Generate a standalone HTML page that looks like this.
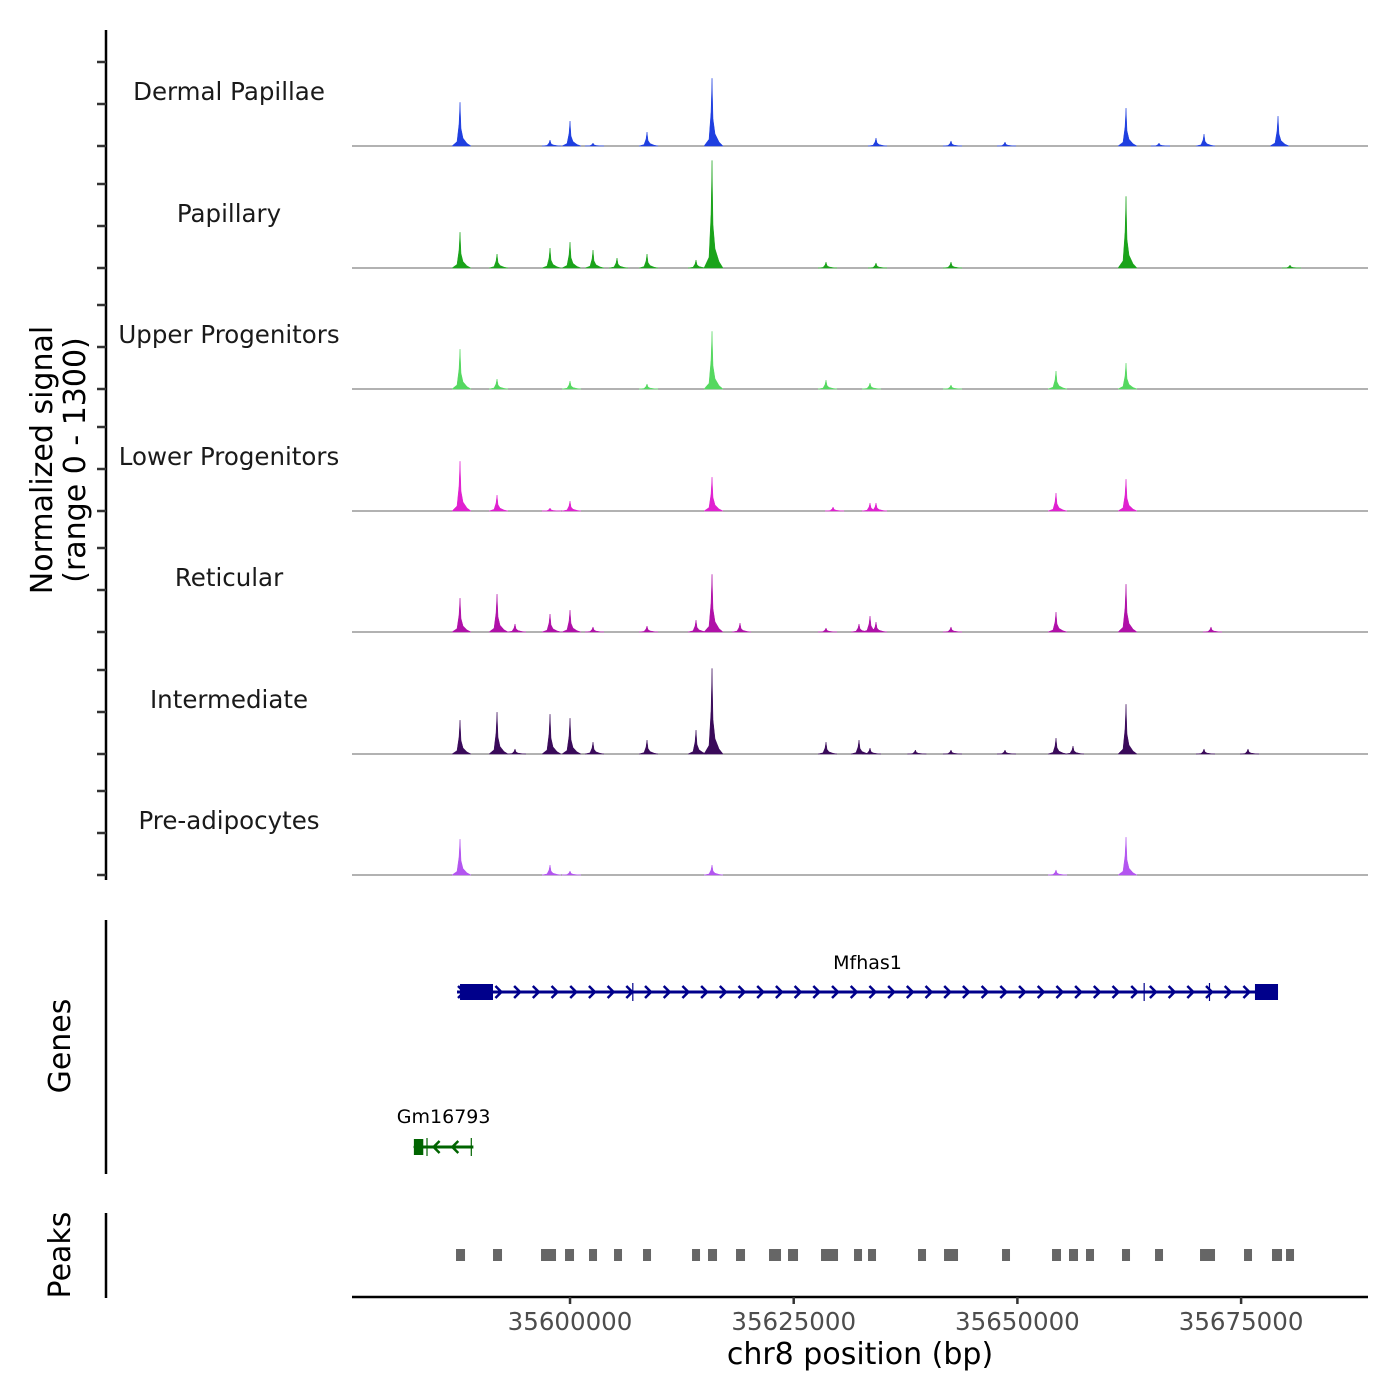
<!DOCTYPE html>
<html><head><meta charset="utf-8"><style>
html,body{margin:0;padding:0;background:#fff}
svg{display:block;font-family:"DejaVu Sans","Liberation Sans",sans-serif}
</style></head><body>
<svg id="chart" width="1400" height="1400" viewBox="0 0 1400 1400" xmlns="http://www.w3.org/2000/svg">
<text transform="translate(52,460) rotate(-90)" text-anchor="middle" font-size="30" fill="#000">Normalized signal</text>
<text transform="translate(85,460) rotate(-90)" text-anchor="middle" font-size="30" fill="#000">(range 0 - 1300)</text>
<text transform="translate(70,1046) rotate(-90)" text-anchor="middle" font-size="30" fill="#000">Genes</text>
<text transform="translate(70,1255) rotate(-90)" text-anchor="middle" font-size="30" fill="#000">Peaks</text>
<line x1="106" y1="30" x2="106" y2="880" stroke="#000" stroke-width="2.5"/>
<line x1="106" y1="920" x2="106" y2="1174" stroke="#000" stroke-width="2.5"/>
<line x1="106" y1="1213" x2="106" y2="1298" stroke="#000" stroke-width="2.5"/>
<line x1="352" y1="1297" x2="1368" y2="1297" stroke="#000" stroke-width="2.5"/>
<text x="860" y="1364" text-anchor="middle" font-size="30" fill="#000">chr8 position (bp)</text>
<g id="g"></g>
</svg>
<script>
// ---- data ----
const xStart = 35575634, xEnd = 35689183;
const xTicks = [35600000, 35625000, 35650000, 35675000];
const trackNames = ["Dermal Papillae","Papillary","Upper Progenitors","Lower Progenitors","Reticular","Intermediate","Pre-adipocytes"];
const trackColors = ["#1f3fe0","#1aa31a","#55d860","#e020d0","#b010a8","#3a0a5a","#b355f0"];
const yMax = 1300;
const pos = {a:35587706,b:35591842,c:35593853,d:35597765,e:35600000,f:35602570,g:35605253,h:35608606,i:35614082,j:35615870,k:35618999,l:35628610,m:35632298,n:35633528,o:35634198,p:35642580,q:35648616,r:35654315,s:35656215,t:35662139,u:35665827,v:35670856,w:35671639,x:35675774,y:35679127,z:35680468,l2:35629400,p2:35638600};
const dpPeaks   = [["a",470],["d",64],["e",268],["f",32],["h",150],["j",728],["o",86],["p",54],["q",43],["t",407],["u",32],["v",128],["y",321]];
const papPeaks  = [["a",385],["b",150],["d",214],["e",278],["f",193],["g",107],["h",150],["i",86],["j",1156],["l",64],["o",54],["p",64],["t",770],["z",32]];
const upPeaks   = [["a",428],["b",107],["e",86],["h",54],["j",620],["l",96],["n",64],["p",43],["r",193],["t",278]];
const lowPeaks  = [["a",535],["b",171],["d",32],["e",107],["j",364],["l2",43],["n",86],["o",86],["r",193],["t",342]];
const retPeaks  = [["a",364],["b",407],["c",86],["d",193],["e",235],["f",54],["h",64],["i",128],["j",620],["k",96],["l",43],["m",86],["n",171],["o",107],["p",54],["r",214],["t",514],["w",54]];
const intPeaks  = [["a",364],["b",450],["c",54],["d",428],["e",385],["f",128],["h",150],["i",257],["j",920],["l",128],["m",150],["n",64],["p2",43],["p",43],["q",43],["r",171],["s",86],["t",535],["v",54],["x",54]];
const prePeaks  = [["a",385],["d",107],["e",43],["j",107],["r",54],["t",407]];
const allPeaks = [dpPeaks,papPeaks,upPeaks,lowPeaks,retPeaks,intPeaks,prePeaks];
const peakStarts = [35587259,35591394,35596759,35599441,35602123,35604917,35608158,35613635,35615423,35618552,35622240,35624364,35628052,35631740,35633305,35638893,35641799,35648280,35653868,35655767,35657667,35661690,35665380,35670409,35675326,35678455,35680021];
const peakEnds   = [35588265,35592400,35598435,35600447,35603018,35605811,35609053,35614529,35616429,35619558,35623581,35625481,35629952,35632634,35634199,35639787,35643363,35649174,35654873,35656773,35658562,35662586,35666274,35672085,35676220,35679573,35680915];
const geneNames = ["Mfhas1","Gm16793"];
const geneStarts = [35587371, 35582550];
const geneEnds = [35679127, 35589200];
const geneStrands = [1, -1];
const exonStarts = [[35587706,35606950,35664100,35671400,35676550],[35582550,35583950,35588900]];
const exonEnds   = [[35591394,35607050,35664200,35671500,35679127],[35583600,35584050,35589000]];
const geneColors = ["#00008b","#006400"];

// ---- scales ----
const X0=352, X1=1368;
const xs = v => X0 + (v-xStart)/(xEnd-xStart)*(X1-X0);
const baselines = [146,268,389,511,632,754,875];
const trackH = 121;
const ys = (v,t) => baselines[t] - v/yMax*trackH;
const NS="http://www.w3.org/2000/svg";
const G=document.getElementById('g');
function mk(tag, attrs, parent){const e=document.createElementNS(NS,tag);for(const k in attrs)e.setAttribute(k,attrs[k]);(parent||G).appendChild(e);return e;}

// y ticks
baselines.forEach((b,t)=>{
  [0,1,2].forEach(k=>{
    const tk=mk('line',{x1:97,x2:106,y1:b-k*42,y2:b-k*42,stroke:'#333','stroke-width':2.5});
    
    
  });
});

// tracks
allPeaks.forEach((peaks,t)=>{
  const b=baselines[t], col=trackColors[t];
  const lbl=mk('text',{x:229,y:b-46,'text-anchor':'middle','font-size':24.5,fill:'#1a1a1a'});
  lbl.textContent=trackNames[t];
  
  
  const bl=mk('line',{x1:X0,x2:X1,y1:b,y2:b,stroke:'#666','stroke-width':1});
  
  
  peaks.forEach(([key,val])=>{
    const x=xs(pos[key]), top=ys(val,t), h=b-top;
    const d=`M${x-8},${b} L${x-3},${b-h*0.1} L${x-1},${b-h*0.5} L${x},${top} L${x+1},${b-h*0.4} L${x+3},${b-h*0.18} L${x+7},${b-h*0.06} L${x+11},${b} Z`;
    const p=mk('path',{d:d,fill:col,stroke:col,'stroke-width':0.5});
    
    
  });
});

// genes
const geneY=[992,1147], labelY=[969,1123];
geneNames.forEach((nm,i)=>{
  const y=geneY[i], col=geneColors[i], s=xs(geneStarts[i]), e=xs(geneEnds[i]);
  const ln=mk('line',{x1:s,x2:e,y1:y,y2:y,stroke:col,'stroke-width':3});
  
  
  const step=18.7;
  for(let x=s+4;x<=e-4;x+=step){
    const dir=geneStrands[i];
    const ch=mk('path',{d:`M${x-3*dir},${y-6} L${x+3*dir},${y} L${x-3*dir},${y+6}`,fill:'none',stroke:col,'stroke-width':2.5});
    
    
  }
  exonStarts[i].forEach((es,k)=>{
    const x1=xs(es), x2=xs(exonEnds[i][k]);
    const w=Math.max(x2-x1,1.2);
    const thin = w<3;
    const r=mk('rect',{x:x1,y:thin?y-9:y-8,width:w,height:thin?18:16,fill:col});
    
    
  });
  const t=mk('text',{x:(s+e)/2,y:labelY[i],'text-anchor':'middle','font-size':19,fill:'#000'});
  t.textContent=nm;
  
  
});

// peaks
peakStarts.forEach((ps,i)=>{
  const x1=xs(ps), x2=xs(peakEnds[i]);
  const r=mk('rect',{x:x1,y:1249,width:x2-x1,height:12,fill:'#666'});
  
  
});

// x ticks
xTicks.forEach(v=>{
  const x=xs(v);
  const tk=mk('line',{x1:x,x2:x,y1:1297,y2:1304,stroke:'#333','stroke-width':2.5});
  
  
  const t=mk('text',{x:x,y:1330,'text-anchor':'middle','font-size':24.5,fill:'#4d4d4d'});
  t.textContent=v;
  
  
});
</script>
</body></html>
